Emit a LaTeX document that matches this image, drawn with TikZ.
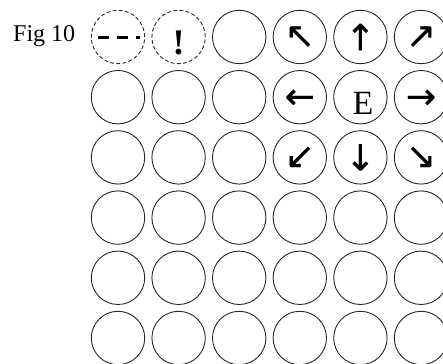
\documentclass[tikz,border=0pt]{standalone}
\usepackage{fontspec}
\setmainfont{Liberation Serif}
\newfontfamily\arrowfont[FakeBold=0.5]{DejaVu Sans}
\begin{document}
\begin{tikzpicture}[x=1pt,y=1pt,
  cell/.style={circle,draw=black!85,line width=0.9pt,minimum size=53.4pt,inner sep=0pt},
  dcell/.style={cell,dash pattern=on 3.8pt off 2.4pt},
  arr/.style={font=\arrowfont\fontsize{36}{36}\selectfont},
  lbl/.style={font=\fontsize{24}{24}\selectfont}]
\useasboundingbox (0,0) rectangle (443,363);
\node[lbl,anchor=base west,inner sep=0pt] (fig) at (13,321) {Fig 10};
\foreach \c in {1,...,6}{
  \foreach \r in {1,...,6}{
    \pgfmathsetmacro{\xx}{118+(\c-1)*60.6}
    \pgfmathsetmacro{\yy}{363-(37+(\r-1)*60.2)}
    \coordinate (p\c\r) at (\xx,\yy);
  }
}
% row 1
\node[dcell] (c11) at (p11) {};
\node[dcell] (c21) at (p21) {};
\node[cell] (c31) at (p31) {};
\node[cell] (c41) at (p41) {};
\node[cell] (c51) at (p51) {};
\node[cell] (c61) at (p61) {};
\node[arr,inner sep=0pt] (a41) at (c41.center) {↖};
\node[arr,inner sep=0pt] (a51) at (c51.center) {↑};
\node[arr,inner sep=0pt] (a61) at (c61.center) {↗};
% row 2
\node[cell] (c12) at (p12) {};
\node[cell] (c22) at (p22) {};
\node[cell] (c32) at (p32) {};
\node[cell] (c42) at (p42) {};
\node[cell] (c52) at (p52) {};
\node[cell] (c62) at (p62) {};
\node[arr,inner sep=0pt] (a42) at ([yshift=-2pt]c42.center) {←};
\node[anchor=base,inner sep=0pt,font=\fontsize{34}{34}\selectfont] (e) at ([xshift=2.5pt,yshift=-17pt]c52.center) {E};
\node[arr,inner sep=0pt] (a62) at ([yshift=-2pt]c62.center) {→};
% row 3
\node[cell] (c13) at (p13) {};
\node[cell] (c23) at (p23) {};
\node[cell] (c33) at (p33) {};
\node[cell] (c43) at (p43) {};
\node[cell] (c53) at (p53) {};
\node[cell] (c63) at (p63) {};
\node[arr,inner sep=0pt] (a43) at (c43.center) {↙};
\node[arr,inner sep=0pt] (a53) at (c53.center) {↓};
\node[arr,inner sep=0pt] (a63) at (c63.center) {↘};
% rows 4-6
\foreach \c in {1,...,6}{
  \foreach \r in {4,5,6}{
    \node[cell] (c\c\r) at (p\c\r) {};
  }
}
% dashed line in first cell
\coordinate (dl) at ([xshift=-20pt,yshift=-0.3pt]c11.center);
\coordinate (dr) at ([xshift=22pt,yshift=-0.3pt]c11.center);
\draw[line width=2.8pt,dash pattern=on 11pt off 8pt] (dl) -- (dr);
% exclamation
\node[anchor=base,inner sep=0pt,font=\bfseries\fontsize{36}{36}\selectfont] (ex) at ([yshift=-18pt]c21.center) {!};
\end{tikzpicture}
\end{document}
